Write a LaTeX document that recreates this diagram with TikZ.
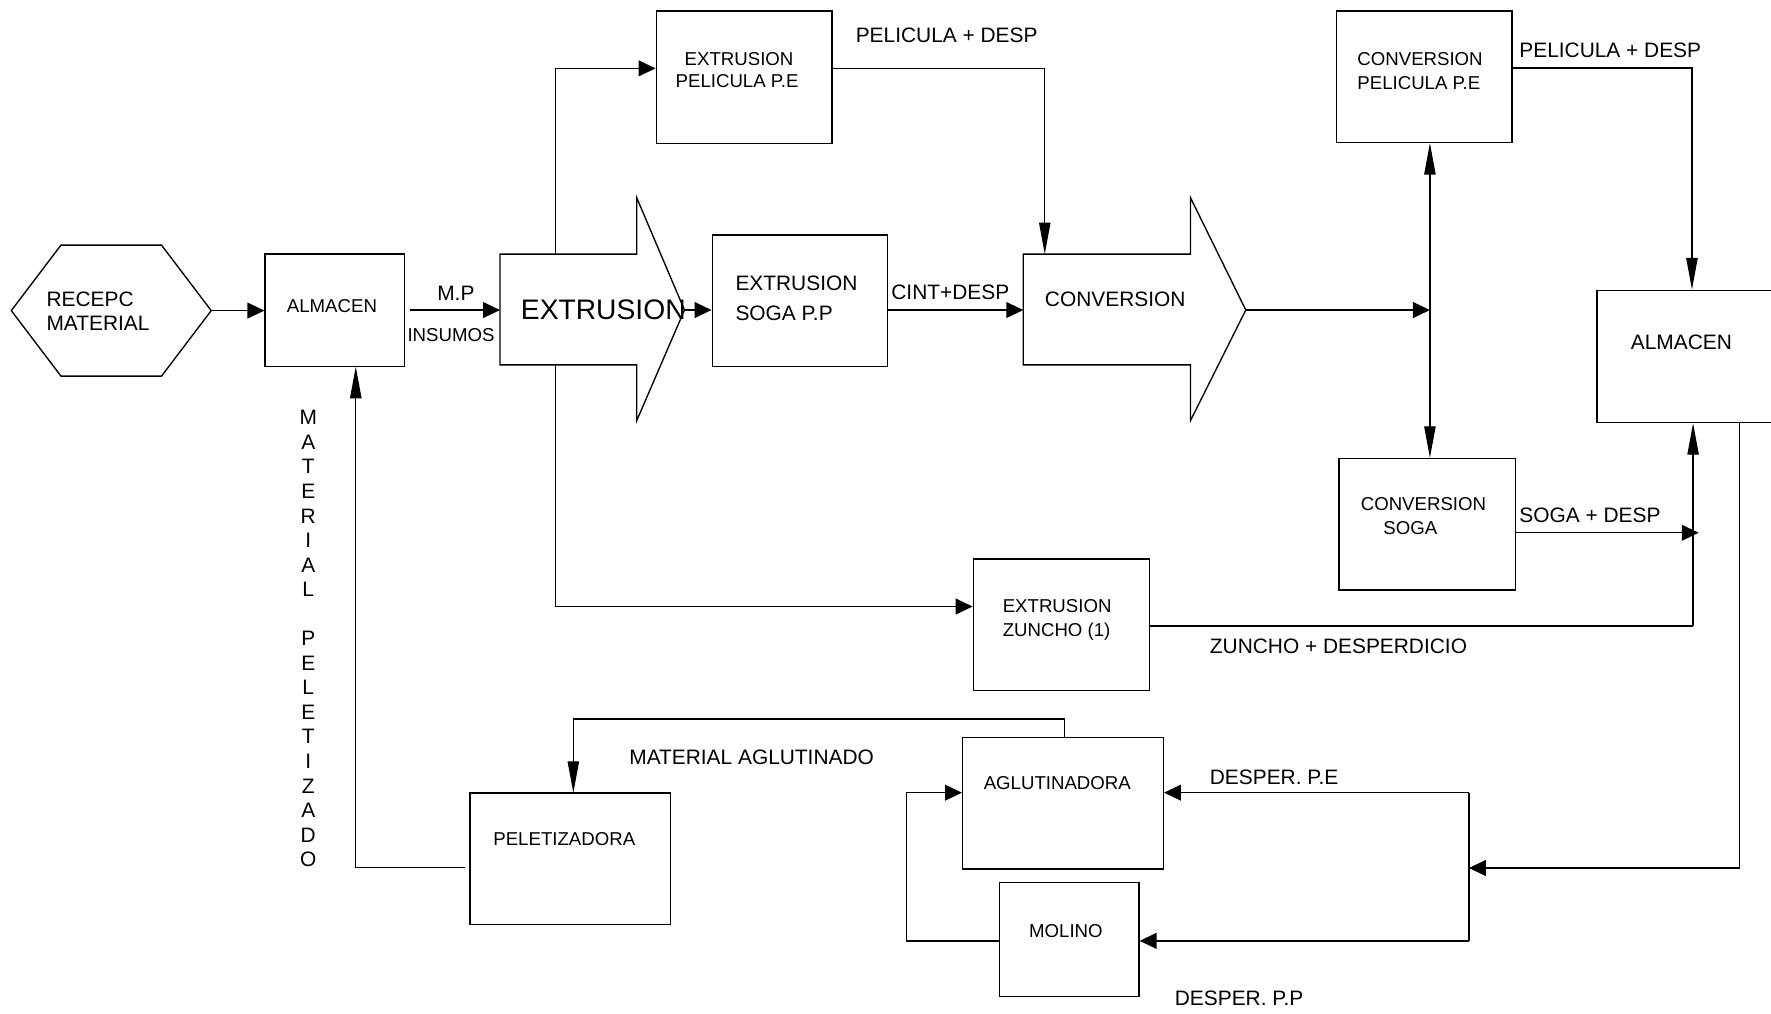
\documentclass[tikz,border=0pt]{standalone}
\usepackage{fontspec}
\setmainfont{Liberation Sans}
\usetikzlibrary{arrows.meta,fit,calc}
\begin{document}
\begin{tikzpicture}[x=1pt,y=-1pt,
  ln/.style={line width=1.2pt},
  box/.style={draw,line width=1.2pt,inner sep=0pt,rectangle},
  harr/.style={ln,-{Triangle[length=15pt,width=14pt]}},
  varr/.style={ln,-{Triangle[length=28pt,width=10pt]}},
  vboth/.style={ln,{Triangle[length=28pt,width=10pt]}-{Triangle[length=28pt,width=10pt]}},
  lbl/.style={inner sep=0pt,anchor=base west,font=\fontsize{18.5}{22}\selectfont},
  slbl/.style={inner sep=0pt,anchor=base west,font=\fontsize{16.5}{20}\selectfont},
  blbl/.style={inner sep=0pt,anchor=base west,font=\fontsize{25}{30}\selectfont},
  vl/.style={inner sep=0pt,anchor=base,font=\fontsize{18.5}{22}\selectfont}]
\useasboundingbox (0,0) rectangle (1568,897);

% ---- shapes ----
\draw[ln] (10,275) -- (54,217) -- (143,217) -- (187,275) -- (143,333) -- (54,333) -- cycle;
\coordinate (hexE) at (187,275);

\draw[ln] (442.7,225) -- (563.7,225) -- (563.7,175) -- (606,274.5) -- (563.7,372.5) -- (563.7,323) -- (442.7,323) -- cycle;
\coordinate (extW) at (442.7,274.5);
\coordinate (extTip) at (606,274.5);
\coordinate (extTop) at (492,225);
\coordinate (extBot) at (492,323);

\draw[ln] (906,225) -- (1054,225) -- (1054,175) -- (1103,274.5) -- (1054,372.5) -- (1054,323) -- (906,323) -- cycle;
\coordinate (convW) at (906,274.5);
\coordinate (convTip) at (1103,274.5);
\coordinate (convTopIn) at (925,225);

\node[box,fit={(234.7,225) (358,324.6)}] (alm1) {};
\node[box,fit={(581,9.7) (736.7,127)}] (pel) {};
\node[box,fit={(630.6,208) (786,324.6)}] (soga) {};
\node[box,fit={(1183.4,9.8) (1338.6,126)}] (cpel) {};
\node[box,fit={(1185.6,406) (1342,522.5)}] (csoga) {};
\node[box,fit={(1414,257) (1575,374)}] (alm2) {};
\node[box,fit={(861.7,495) (1017.5,611.5)}] (zun) {};
\node[box,fit={(852.3,652.7) (1030,769.4)}] (agl) {};
\node[box,fit={(416,702) (593.8,818.6)}] (pelet) {};
\node[box,fit={(884.8,781.5) (1008.4,882.4)}] (mol) {};

% ---- helper coordinates ----
\coordinate (mpS) at (362.7,274.5);
\coordinate (dblx) at (1266,274.5);
\coordinate (y60) at (0,60.5);
\coordinate (y537) at (0,537);
\coordinate (zunR) at (1499,554.2);
\coordinate (sogaEnd) at (1504,471.7);
\coordinate (alm2Out) at (1540,374);
\coordinate (retR) at (1300.5,768.5);
\coordinate (retTop) at (1300.5,701.8);
\coordinate (retBot) at (1300.5,833);
\coordinate (loopL) at (802.6,833);
\coordinate (aglTop) at (942.5,652.7);
\coordinate (aglUp) at (942.5,636.6);
\coordinate (peletIn) at (507.6,702);
\coordinate (peletOut) at (411.7,768);
\coordinate (almIn) at (315,324.6);

% ---- connectors ----
\draw[harr] (hexE) -- (alm1.west |- hexE);
\draw[harr] (mpS) -- (extW);
\draw[harr] (extTip) -- (extTip -| soga.west);
\draw[harr] (soga.east |- convW) -- (convW);
\draw[harr] (convTip) -- (dblx);
\draw[vboth] (cpel.south -| dblx) -- (csoga.north -| dblx);
\draw[harr] (extTop) |- (pel.west |- y60);
\draw[varr] (pel.east |- y60) -| (convTopIn);
\draw[harr] (extBot) |- (zun.west |- y537);
\draw[ln] (zun.east |- zunR) -- (zunR);
\draw[varr] (zunR) -- (alm2.south -| zunR);
\draw[harr] (csoga.east |- sogaEnd) -- (sogaEnd);
\draw[varr] (cpel.east |- 0,60.2) -| (alm2.north -| 1498,0);
\draw[harr] (alm2Out) |- (retR);
\draw[ln] (retTop) -- (retBot);
\draw[harr] (retTop) -- (agl.east |- retTop);
\draw[harr] (retBot) -- (mol.east |- retBot);
\draw[harr] (mol.west |- loopL) -- (loopL) |- (agl.west |- retTop);
\draw[varr] (aglTop) -- (aglUp) -| (peletIn);
\draw[varr] (peletOut) -| (almIn);

% ---- texts ----
\node[lbl] (t-recepc) at (41,271) {RECEPC};
\node[lbl] (t-material) at (41,292.5) {MATERIAL};
\node[slbl] (t-alm1) at (253.8,276.5) {ALMACEN};
\node[lbl] (t-mp) at (387,266) {M.P};
\node[slbl] (t-insumos) at (360.6,302) {INSUMOS};
\node[blbl] (t-ext) at (461,282.7) {EXTRUSION};
\node[lbl] (t-soga1) at (651,257.6) {EXTRUSION};
\node[lbl] (t-soga2) at (651,284) {SOGA P.P};
\node[lbl] (t-cint) at (789,265) {CINT+DESP};
\node[lbl] (t-conv) at (925,271.5) {CONVERSION};
\node[slbl] (t-pel1) at (606,58) {EXTRUSION};
\node[slbl] (t-pel2) at (598,77.6) {PELICULA P.E};
\node[lbl] (t-peld1) at (757.5,37.8) {PELICULA + DESP};
\node[slbl] (t-cpel1) at (1201.6,57.7) {CONVERSION};
\node[slbl] (t-cpel2) at (1201.6,78.8) {PELICULA P.E};
\node[lbl] (t-peld2) at (1345,50.7) {PELICULA + DESP};
\node[lbl] (t-alm2) at (1443.7,309) {ALMACEN};
\node[slbl] (t-csoga1) at (1204.6,452) {CONVERSION};
\node[slbl] (t-csoga2) at (1224.6,473) {SOGA};
\node[lbl] (t-sogad) at (1345,462.6) {SOGA + DESP};
\node[slbl] (t-zun1) at (887.6,542) {EXTRUSION};
\node[slbl] (t-zun2) at (887.6,563.7) {ZUNCHO (1)};
\node[lbl] (t-zund) at (1071,578.4) {ZUNCHO + DESPERDICIO};
\node[lbl] (t-matagl) at (557,677) {MATERIAL AGLUTINADO};
\node[slbl] (t-agl) at (870.8,699.4) {AGLUTINADORA};
\node[lbl] (t-dpe) at (1071,694.4) {DESPER. P.E};
\node[slbl] (t-pelet) at (436.6,749) {PELETIZADORA};
\node[slbl] (t-mol) at (911,829.9) {MOLINO};
\node[lbl] (t-dpp) at (1040,889.8) {DESPER. P.P};

\foreach \c [count=\i from 0] in {M,A,T,E,R,I,A,L}
  \node[vl] (v\i) at (272.9,{376.2+\i*21.73}) {\c};
\foreach \c [count=\i from 9] in {P,E,L,E,T,I,Z,A,D,O}
  \node[vl] (v\i) at (272.9,{376.2+\i*21.73}) {\c};
\end{tikzpicture}
\end{document}
